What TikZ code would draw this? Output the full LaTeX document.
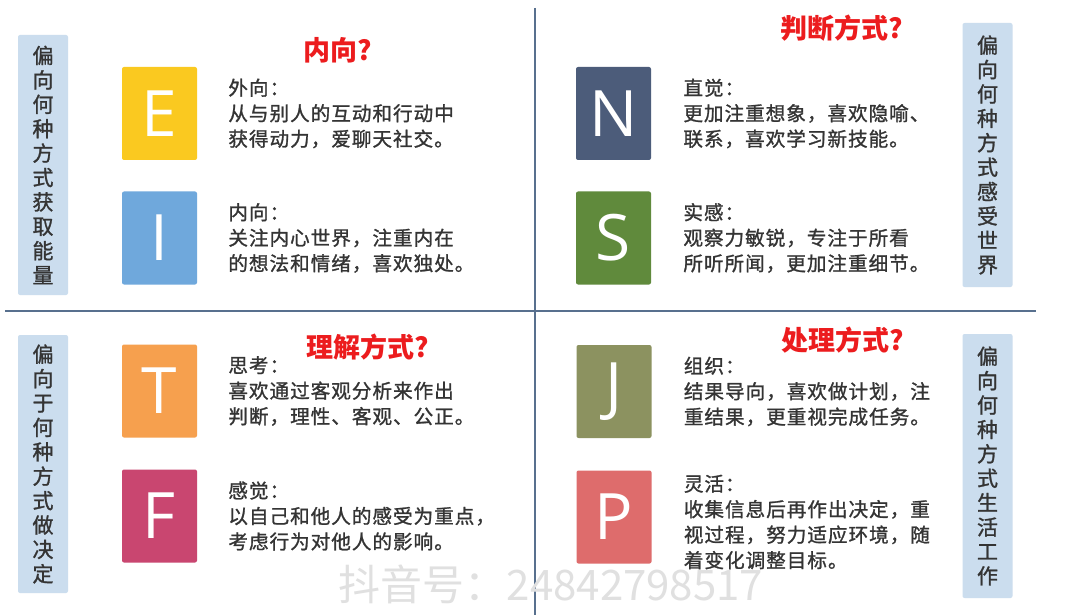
\documentclass[tikz,border=0pt]{standalone}
\usepackage{fontspec}
\setmainfont{Noto Sans CJK SC}
\newfontfamily\letterfont{Open Sans}
\newfontfamily\descfont[LetterSpace=5,FakeBold=1.2]{Noto Sans CJK SC}
\newfontfamily\sidefont[FakeBold=1.2]{Noto Sans CJK SC}
\usepackage{tikz}
\usetikzlibrary{
  positioning,
  calc
}
\usepackage{xcolor}
\definecolor{lineclr}{RGB}{88,112,142}
\definecolor{sideclr}{RGB}{203,221,238}
\definecolor{txtclr}{RGB}{52,52,52}
\definecolor{askred}{RGB}{236,28,30}
\definecolor{clrE}{RGB}{250,201,32}
\definecolor{clrI}{RGB}{111,168,220}
\definecolor{clrN}{RGB}{76,92,122}
\definecolor{clrS}{RGB}{96,138,60}
\definecolor{clrT}{RGB}{246,160,78}
\definecolor{clrF}{RGB}{201,70,112}
\definecolor{clrJ}{RGB}{140,146,96}
\definecolor{clrP}{RGB}{222,108,108}
\tikzset{
  % Dividing lines
  divider/.style   = {draw=lineclr, line width=2.6pt},
  % Side captions
  sidebox/.style   = {fill=sideclr, minimum width=50pt, rounded corners=2pt,
                      inner sep=0pt, align=center, text=txtclr,
                      font=\sidefont\fontsize{21}{24.4}\selectfont},
  % Letter squares
  letterbox/.style = {minimum width=75pt, minimum height=93pt, rounded corners=2pt,
                      inner sep=0pt, text=white,
                      font=\letterfont\fontsize{64}{64}\selectfont},
  % Descriptions
  desc/.style      = {align=left, inner sep=0pt, text=txtclr,
                      font=\descfont\fontsize{19.6}{25.5}\selectfont},
  % Red questions
  ask/.style       = {text=askred, inner sep=0pt,
                      font=\bfseries\fontsize{27}{27}\selectfont},
}

\begin{document}
\begin{tikzpicture}[x=1pt,y=-1pt]
  \fill[white] (0,0) rectangle (1080,615);
  \useasboundingbox (0,0) rectangle (1080,615);
  % Dividers
  \draw[divider] (5,311) -- (1036,311);
  \draw[divider] (535,8) -- (535,615);
  % Side captions
  \node[sidebox, minimum height=260pt] (capLT) at (43,165)
    {偏\\向\\何\\种\\方\\式\\获\\取\\能\\量};
  \node[sidebox, minimum height=264pt] (capRT) at (987.5,155)
    {偏\\向\\何\\种\\方\\式\\感\\受\\世\\界};
  \node[sidebox, minimum height=258pt] (capLB) at (43,464)
    {偏\\向\\于\\何\\种\\方\\式\\做\\决\\定};
  \node[sidebox, minimum height=264pt] (capRB) at (987.5,466)
    {偏\\向\\何\\种\\方\\式\\生\\活\\工\\作};
  % Letter squares
  \foreach \n/\x/\y in {E/159.5/113.5, I/159.5/238, N/613.5/113.5, S/613.5/238,
                        T/159.5/391, F/159.5/516, J/614/391.5, P/614/517}{
    \node[letterbox, fill=clr\n] (\n) at (\x,\y) {\n};
  }
  % Descriptions
  \node[desc, right=31pt of E] (dE) {外向：\\从与别人的互动和行动中\\获得动力，爱聊天社交。};
  \node[desc, right=31pt of I] (dI) {内向：\\关注内心世界，注重内在\\的想法和情绪，喜欢独处。};
  \node[desc, right=32pt of N] (dN) {直觉：\\更加注重想象，喜欢隐喻、\\联系，喜欢学习新技能。};
  \node[desc, right=32pt of S] (dS) {实感：\\观察力敏锐，专注于所看\\所听所闻，更加注重细节。};
  \node[desc, right=31pt of T] (dT) {思考：\\喜欢通过客观分析来作出\\判断，理性、客观、公正。};
  \node[desc, right=31pt of F] (dF) {感觉：\\以自己和他人的感受为重点，\\考虑行为对他人的影响。};
  \node[desc, right=32pt of J] (dJ) {组织：\\结果导向，喜欢做计划，注\\重结果，更重视完成任务。};
  \node[desc, right=32pt of P, yshift=-5pt] (dP) {灵活：\\收集信息后再作出决定，重\\视过程，努力适应环境，随\\着变化调整目标。};
  % Questions
  \node[ask] (qE) at (338,50)  {内向?};
  \node[ask] (qN) at (842,28)  {判断方式?};
  \node[ask] (qT) at (368,347) {理解方式?};
  \node[ask] (qJ) at (843,340) {处理方式?};
  % Watermark
  \node[text=black!12, inner sep=0pt, font=\fontsize{42}{42}\selectfont] (wm) at (551,584)
    {抖音号：24842798517};
\end{tikzpicture}
\end{document}
